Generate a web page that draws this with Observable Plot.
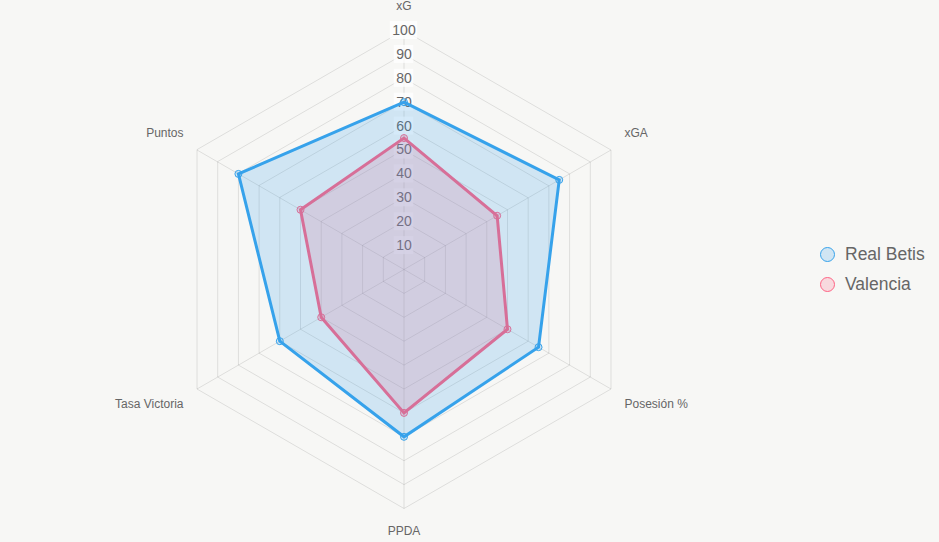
<!DOCTYPE html>
<html>
<head>
<meta charset="utf-8">
<script src="https://cdn.jsdelivr.net/npm/d3@7"></script>
<script src="https://cdn.jsdelivr.net/npm/@observablehq/plot@0.6"></script>
<style>
  html, body { margin: 0; padding: 0; background: #f7f7f5; }
  #wrap { position: relative; width: 939px; height: 542px; font-family: "Liberation Sans", Arial, Helvetica, sans-serif; }
  #legend { position: absolute; left: 820px; top: 240px; }
  .item { display: flex; align-items: center; height: 29.5px; font-size: 17.5px; color: #666; white-space: nowrap; }
  .sw { width: 13px; height: 13px; border-radius: 50%; border: 1.5px solid; margin-right: 10px; box-sizing: content-box; }
</style>
</head>
<body>
<div id="wrap"></div>
<script>
// ---- data ----
const axesLabels = ["xG", "xGA", "Posesión %", "PPDA", "Tasa Victoria", "Puntos"];
const realBetis = [70, 75, 65, 70, 60, 80];
const valencia = [55, 45, 50, 60, 40, 50];
const tickValues = [10, 20, 30, 40, 50, 60, 70, 80, 90, 100];
const teams = ["Real Betis", "Valencia"];
const teamColors = ["rgb(54,162,235)", "rgb(255,99,132)"];

// ---- layout ----
const W = 939, H = 542;
const cx = 403.5, cy = 269, Rpx = 239, maxV = 100;
const k = maxV / Rpx; // data units per pixel
const n = axesLabels.length;
const ang = i => (i * 2 * Math.PI) / n;
const px = (i, v) => v * Math.sin(ang(i));
const py = (i, v) => v * Math.cos(ang(i));

const ring = tickValues.flatMap(t => axesLabels.map((_, i) => ({level: t, x: px(i, t), y: py(i, t)})));
const spokes = axesLabels.map((l, i) => ({label: l, i}));
const series = (vals, team) => vals.map((v, i) => ({team, axis: axesLabels[i], value: v, x: px(i, v), y: py(i, v)}));
const betisData = series(realBetis, teams[0]);
const valenciaData = series(valencia, teams[1]);

const font = '"Liberation Sans", Arial, Helvetica, sans-serif';
const tickFont = 14, pad = 2;
const tickW = t => String(t).length * tickFont * 0.556 + pad * 2;
const tickH = 18;

function labelMark(i) {
  const s = Math.sin(ang(i)), c = Math.cos(ang(i));
  const side = Math.abs(s) < 1e-6 ? 0 : Math.sign(s);
  const vert = Math.abs(c) > 0.99 ? (c > 0 ? -24 : 23) : (c > 0 ? -17 : 15);
  return Plot.text([spokes[i]], {
    x: d => px(d.i, maxV), y: d => py(d.i, maxV), text: "label",
    textAnchor: side === 0 ? "middle" : side > 0 ? "start" : "end",
    dx: side * 13.5, dy: vert,
    fontSize: 12, fill: "#666", fontFamily: font
  });
}

const polygon = (data, color) => [
  Plot.line(data, {x: "x", y: "y", curve: "linear-closed", fill: color, fillOpacity: 0.2,
    stroke: color, strokeWidth: 3, strokeLinejoin: "miter", strokeMiterlimit: 10}),
  Plot.dot(data, {x: "x", y: "y", r: 3.5, stroke: color, fill: color, fillOpacity: 0.2, strokeWidth: 1})
];

const chart = Plot.plot({
  width: W, height: H,
  margin: 0,
  style: {background: "#f7f7f5", fontFamily: font},
  x: {domain: [-cx * k, (W - cx) * k], range: [0, W], axis: null},
  y: {domain: [-(H - cy) * k, cy * k], range: [H, 0], axis: null},
  marks: [
    Plot.line(ring, {x: "x", y: "y", z: "level", curve: "linear-closed", stroke: "#000", strokeOpacity: 0.1, strokeWidth: 1}),
    Plot.link(spokes, {x1: () => 0, y1: () => 0, x2: d => px(d.i, maxV), y2: d => py(d.i, maxV), stroke: "#000", strokeOpacity: 0.1, strokeWidth: 1}),
    ...axesLabels.map((_, i) => labelMark(i)),
    Plot.rect(tickValues, {x1: t => -tickW(t) / 2 * k, x2: t => tickW(t) / 2 * k,
      y1: t => t - tickH / 2 * k, y2: t => t + tickH / 2 * k, fill: "#fff", fillOpacity: 0.75}),
    Plot.text(tickValues, {x: () => 0, y: t => t, text: t => String(t), fontSize: tickFont, fill: "#666", fontFamily: font}),
    ...polygon(valenciaData, teamColors[1]),
    ...polygon(betisData, teamColors[0])
  ]
});

const wrap = document.getElementById("wrap");
wrap.appendChild(chart);
const legend = document.createElement("div");
legend.id = "legend";
teams.forEach((t, i) => {
  const item = document.createElement("div");
  item.className = "item";
  const sw = document.createElement("span");
  sw.className = "sw";
  sw.style.borderColor = teamColors[i];
  sw.style.background = teamColors[i].replace("rgb", "rgba").replace(")", ",0.2)");
  const tx = document.createElement("span");
  tx.textContent = t;
  item.appendChild(sw); item.appendChild(tx);
  legend.appendChild(item);
});
wrap.appendChild(legend);
</script>
</body>
</html>
